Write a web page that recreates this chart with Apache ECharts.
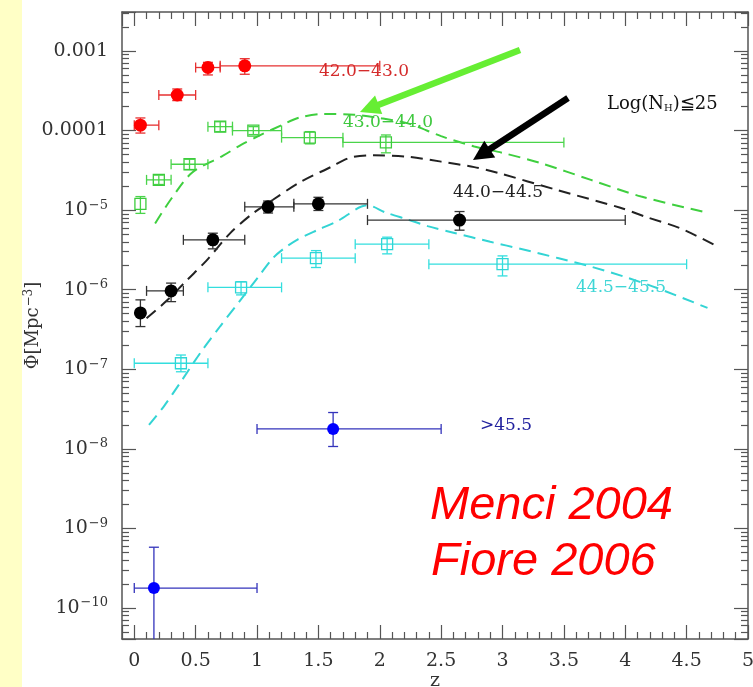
<!DOCTYPE html>
<html>
<head>
<meta charset="utf-8">
<script src="https://cdn.jsdelivr.net/npm/echarts@6/dist/echarts.min.js"></script>
<style>
html, body { margin: 0; padding: 0; background: #fff; }
#main { width: 753px; height: 687px; }
</style>
</head>
<body>
<div id="main"></div>
<script>
// points: [z, phi, zLo, zHi, phiLo, phiHi]  (zLo == zHi -> no horizontal bar)
var lum42 = [
	[0.05, 1.17e-4, 0.0, 0.2, 9.3e-5, 1.44e-4],
	[0.35, 2.8e-4, 0.2, 0.5, 2.38e-4, 3.33e-4],
	[0.6, 6.2e-4, 0.5, 0.7, 5.0e-4, 7.2e-4],
	[0.9, 6.5e-4, 0.7, 2.0, 5.1e-4, 8.0e-4]
];
var lum43 = [
	[0.05, 1.2e-5, 0.05, 0.05, 9.1e-6, 1.48e-5],
	[0.2, 2.4e-5, 0.1, 0.3, 2.1e-5, 2.75e-5],
	[0.45, 3.77e-5, 0.3, 0.6, 3.24e-5, 4.37e-5],
	[0.7, 1.12e-4, 0.6, 0.8, 9.7e-5, 1.29e-4],
	[0.97, 1.0e-4, 0.8, 1.2, 8.9e-5, 1.12e-4],
	[1.43, 8.15e-5, 1.2, 1.7, 6.8e-5, 9.7e-5],
	[2.05, 7.1e-5, 1.7, 3.5, 5.25e-5, 8.8e-5]
];
var lum44 = [
	[0.05, 5.1e-7, 0.05, 0.05, 3.44e-7, 7.45e-7],
	[0.3, 9.66e-7, 0.1, 0.4, 7.08e-7, 1.21e-6],
	[0.64, 4.23e-6, 0.4, 0.9, 3.26e-6, 5.13e-6],
	[1.09, 1.1e-5, 0.9, 1.3, 9.2e-6, 1.3e-5],
	[1.5, 1.2e-5, 1.3, 1.9, 9.9e-6, 1.45e-5],
	[2.65, 7.5e-6, 1.9, 4.0, 5.6e-6, 9.6e-6]
];
var lum445 = [
	[0.38, 1.19e-7, 0.0, 0.6, 9.3e-8, 1.51e-7],
	[0.87, 1.07e-6, 0.6, 1.2, 8.6e-7, 1.26e-6],
	[1.48, 2.49e-6, 1.2, 1.8, 1.9e-6, 3.1e-6],
	[2.06, 3.73e-6, 1.8, 2.4, 2.82e-6, 4.57e-6],
	[3.0, 2.09e-6, 2.4, 4.5, 1.49e-6, 2.66e-6]
];
var lum455 = [
	[1.62, 1.78e-8, 1.0, 2.5, 1.07e-8, 2.86e-8],
	[0.16, 1.78e-10, 0.0, 1.0, 1e-11, 5.8e-10]
];

// Menci 2004 model curves: [z, phi]
var model43 = [
	[0.17, 6.8e-6], [0.30, 1.38e-5], [0.47, 2.95e-5], [0.72, 4.8e-5], [0.87, 6.6e-5],
	[1.03, 8.8e-5], [1.2, 1.17e-4], [1.34, 1.45e-4], [1.54, 1.62e-4], [1.79, 1.58e-4],
	[1.98, 1.45e-4], [2.23, 1.23e-4], [2.5, 8.5e-5], [2.77, 6.3e-5], [3.0, 5.25e-5],
	[3.31, 3.9e-5], [3.72, 2.4e-5], [4.13, 1.48e-5], [4.67, 9.3e-6]
];
var model44 = [
	[0.10, 4.37e-7], [0.27, 7.4e-7], [0.43, 1.32e-6], [0.59, 2.34e-6], [0.78, 5.1e-6],
	[0.95, 8.7e-6], [1.13, 1.35e-5], [1.35, 2.24e-5], [1.6, 3.47e-5], [1.76, 4.57e-5],
	[1.95, 4.9e-5], [2.23, 4.68e-5], [2.5, 4.07e-5], [2.77, 3.47e-5], [2.96, 2.95e-5],
	[3.45, 1.78e-5], [3.96, 1.07e-5], [4.16, 8.3e-6], [4.45, 5.9e-6], [4.75, 3.5e-6]
];
var model445 = [
	[0.12, 2.0e-8], [0.24, 3.4e-8], [0.375, 6.8e-8], [0.54, 1.62e-7], [0.70, 3.47e-7],
	[0.865, 7.4e-7], [1.0, 1.38e-6], [1.13, 2.5e-6], [1.22, 3.3e-6], [1.33, 4.27e-6],
	[1.49, 5.6e-6], [1.65, 7.2e-6], [1.9, 1.15e-5], [2.05, 9.3e-6], [2.23, 7.6e-6],
	[2.39, 6.3e-6], [2.6, 5.2e-6], [2.9, 4.0e-6], [3.17, 3.2e-6], [3.45, 2.5e-6],
	[3.72, 1.95e-6], [3.99, 1.46e-6], [4.26, 1.05e-6], [4.67, 5.9e-7]
];

var serif = '"DejaVu Serif", serif';

function yLabel(v) {
	if (!(v > 0)) return '';
	var lg = Math.log10(v), e = Math.round(lg);
	if (Math.abs(lg - e) > 1e-6) return '';
	if (e === -3) return '0.001';
	if (e === -4) return '0.0001';
	return '{b|10}{s|−' + (-e) + '}';
}
function xLabel(v) {
	if (v < 0 || Math.abs(v * 2 - Math.round(v * 2)) > 1e-6) return '';
	return String(+v.toFixed(1));
}

var frame = { show: true, onZero: false, lineStyle: { color: '#555', width: 1.5 } };
var tick = { show: true, inside: true, length: 14, lineStyle: { color: '#555', width: 1.2 } };
var supRich = {
	b: { fontFamily: serif, fontSize: 19, color: '#333' },
	s: { fontFamily: serif, fontSize: 13, lineHeight: 13, color: '#333', padding: [0, 0, 10, 1] }
};

function xAx(top) {
	return {
		type: 'value', min: -0.1, max: 5, splitNumber: 10, position: top ? 'top' : 'bottom',
		axisLine: frame, axisTick: tick,
		minorTick: { show: true, splitNumber: 5, length: 7, lineStyle: { color: '#555', width: 1.2 } },
		splitLine: { show: false },
		axisLabel: { show: !top, formatter: xLabel, margin: 13, fontFamily: serif, fontSize: 19, color: '#333' },
		name: top ? '' : 'z', nameLocation: 'middle', nameGap: 33, nameMoveOverlap: false,
		nameTextStyle: { fontFamily: serif, fontSize: 19, color: '#333' }
	};
}
function yAx(right) {
	return {
		type: 'log', logBase: 10, min: Math.pow(10, -10.39), max: Math.pow(10, -2.51),
		position: right ? 'right' : 'left',
		axisLine: frame, axisTick: tick,
		minorTick: { show: true, splitNumber: 9, length: 7, lineStyle: { color: '#555', width: 1.2 } },
		splitLine: { show: false },
		axisLabel: { show: !right, formatter: yLabel, margin: 14, fontFamily: serif, fontSize: 19, color: '#333', rich: supRich },
		name: right ? '' : '{a|Φ[Mpc}{s|−3}{a|]}', nameLocation: 'middle', nameRotate: 90, nameGap: 80,
		nameMoveOverlap: false,
		nameTextStyle: {
			fontFamily: serif, fontSize: 18, color: '#333',
			rich: {
				a: { fontFamily: serif, fontSize: 18, color: '#333' },
				s: { fontFamily: serif, fontSize: 12, lineHeight: 12, color: '#333', padding: [0, 0, 9, 1] }
			}
		}
	};
}

function errSeries(rows, opt) {
	return {
		type: 'custom', xAxisIndex: 0, yAxisIndex: 0, clip: true, z: 5, silent: true,
		data: rows,
		encode: { x: 0, y: 1 },
		renderItem: function (params, api) {
			var z = api.value(0), p = api.value(1);
			var c = api.coord([z, p]);
			var l = api.coord([api.value(2), p]), r = api.coord([api.value(3), p]);
			var b = api.coord([z, api.value(4)]), t = api.coord([z, api.value(5)]);
			var st = { stroke: opt.bar, lineWidth: 1.3, fill: null };
			var cap = 5, kids = [];
			function seg(x1, y1, x2, y2) {
				kids.push({ type: 'line', shape: { x1: x1, y1: y1, x2: x2, y2: y2 }, style: st });
			}
			if (api.value(3) > api.value(2)) {
				seg(l[0], c[1], r[0], c[1]);
				seg(l[0], c[1] - cap, l[0], c[1] + cap);
				seg(r[0], c[1] - cap, r[0], c[1] + cap);
			}
			seg(c[0], t[1], c[0], b[1]);
			seg(c[0] - cap, t[1], c[0] + cap, t[1]);
			seg(c[0] - cap, b[1], c[0] + cap, b[1]);
			if (opt.open) {
				kids.push({ type: 'rect', shape: { x: c[0] - 5.5, y: c[1] - 5.5, width: 11, height: 11 },
					style: { fill: null, stroke: opt.mark, lineWidth: 1.3 } });
			} else {
				kids.push({ type: 'circle', shape: { cx: c[0], cy: c[1], r: opt.r || 6.5 }, style: { fill: opt.mark } });
			}
			return { type: 'group', children: kids };
		}
	};
}

function modelSeries(pts, color) {
	return {
		type: 'line', xAxisIndex: 0, yAxisIndex: 0, data: pts, showSymbol: false, symbol: 'none',
		smooth: 0.3, silent: true, z: 3,
		lineStyle: { color: color, width: 2, type: [12, 7] }
	};
}

function arrow(x1, y1, x2, y2, color, w) {
	var dx = x2 - x1, dy = y2 - y1, len = Math.sqrt(dx * dx + dy * dy);
	var ux = dx / len, uy = dy / len, hl = 20, hw = 10;
	var bx = x2 - ux * hl, by = y2 - uy * hl;
	return [
		{ type: 'line', shape: { x1: x1, y1: y1, x2: bx + ux * 2, y2: by + uy * 2 }, style: { stroke: color, lineWidth: w }, z: 20 },
		{ type: 'polygon', shape: { points: [[x2, y2], [bx - uy * hw, by + ux * hw], [bx + uy * hw, by - ux * hw]] },
			style: { fill: color }, z: 20 }
	];
}

function label(x, y, text, color, font) {
	return { type: 'text', x: x, y: y, z: 20,
		style: { text: text, fill: color, font: font || ('17px ' + serif), align: 'left', verticalAlign: 'middle',
			textAlign: 'left', textVerticalAlign: 'middle' } };
}

var bigFont = 'italic 47px "Liberation Sans", Arial, sans-serif';
var graphics = [
	{ type: 'rect', shape: { x: 0, y: 0, width: 22, height: 687 }, style: { fill: '#ffffc6' }, z: -10 },
	label(319, 72, '42.0−43.0', '#d42b2b'),
	label(343, 123, '43.0−44.0', '#3fc83f'),
	label(453, 193, '44.0−44.5', '#222'),
	label(576, 288, '44.5−45.5', '#3fd6d6'),
	label(480, 426, '>45.5', '#22229f'),
	{ type: 'text', x: 607, y: 104, z: 20,
		style: { text: '{a|Log(N}{s|H}{a|)≦25}', fill: '#111', align: 'left', verticalAlign: 'middle',
			textAlign: 'left', textVerticalAlign: 'middle',
			rich: { a: { fontFamily: serif, fontSize: 18, fill: '#111' },
				s: { fontFamily: serif, fontSize: 10, fill: '#111', padding: [9, 0, 0, 0] } } } },
	label(430, 506, 'Menci 2004', '#ff0000', bigFont),
	label(431, 562, 'Fiore 2006', '#ff0000', bigFont)
].concat(arrow(520, 50, 360, 112, '#66ee33', 6.5)).concat(arrow(568, 98, 473, 160, '#000', 6.5));

var chart = echarts.init(document.getElementById('main'), null, { renderer: 'canvas' });
chart.setOption({
	backgroundColor: '#fff',
	animation: false,
	grid: { left: 122, right: 5, top: 12, bottom: 48, containLabel: false, outerBoundsMode: 'none' },
	xAxis: [xAx(false), xAx(true)],
	yAxis: [yAx(false), yAx(true)],
	series: [
		modelSeries(model43, '#3fcf3f'),
		modelSeries(model44, '#222'),
		modelSeries(model445, '#33d4d4'),
		errSeries(lum42, { mark: '#ff0000', bar: '#e63030' }),
		errSeries(lum43, { mark: '#3ccc3c', bar: '#4ad44a', open: true }),
		errSeries(lum44, { mark: '#000', bar: '#333' }),
		errSeries(lum445, { mark: '#2ed6d6', bar: '#33dede', open: true }),
		errSeries(lum455, { mark: '#0000ff', bar: '#3333bb', r: 6 })
	],
	graphic: graphics
});
</script>
</body>
</html>
